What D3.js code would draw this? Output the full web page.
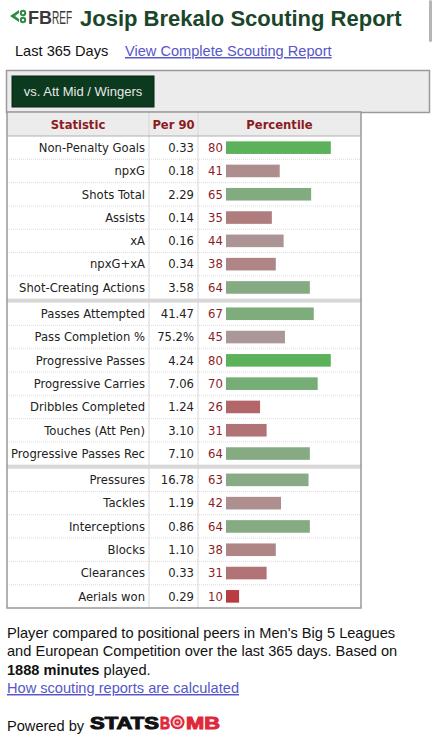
<!DOCTYPE html>
<html>
<head>
<meta charset="utf-8">
<script src="https://cdn.jsdelivr.net/npm/d3@7"></script>
<style>
  body { margin: 0; background: #fff; }
  svg { display: block; }
</style>
</head>
<body>
<svg id="chart"></svg>
<script>
// scouting report data
var stats = [
    "Non-Penalty Goals", "npxG", "Shots Total", "Assists", "xA", "npxG+xA", "Shot-Creating Actions",
    "Passes Attempted", "Pass Completion %", "Progressive Passes", "Progressive Carries",
    "Dribbles Completed", "Touches (Att Pen)", "Progressive Passes Rec",
    "Pressures", "Tackles", "Interceptions", "Blocks", "Clearances", "Aerials won"
];
var per90 = [
    "0.33", "0.18", "2.29", "0.14", "0.16", "0.34", "3.58",
    "41.47", "75.2%", "4.24", "7.06", "1.24", "3.10", "7.10",
    "16.78", "1.19", "0.86", "1.10", "0.33", "0.29"
];
var percentiles = [
    80, 41, 65, 35, 44, 38, 64,
    67, 45, 80, 70, 26, 31, 64,
    63, 42, 64, 38, 31, 10
];
var groups = [
    0, 0, 0, 0, 0, 0, 0,
    1, 1, 1, 1, 1, 1, 1,
    2, 2, 2, 2, 2, 2
];
var headers = ["Statistic", "Per 90", "Percentile"];

var W = 436, H = 750;
var svg = d3.select("#chart").attr("width", W).attr("height", H);

var titleGreen = "#1a462a",
    darkRed = "#8c1b1f",
    linkBlue = "#5656c8",
    sans = "'Liberation Sans', Arial, sans-serif",
    verd = "'DejaVu Sans', Verdana, sans-serif";

// scrollbar sliver on the right edge
svg.append("rect").attr("x", 429).attr("y", 0).attr("width", 3).attr("height", 42)
    .attr("rx", 1.5).attr("fill", "#b5b5b5");

/* ---- header: logo + title ---- */
var logo = svg.append("g").attr("transform", "translate(10,9)");
logo.append("path").attr("d", "M0,7 L9,1 L9,4 L5,7 L9,10 L9,13 Z").attr("fill", "#2f8a4a");
logo.append("circle").attr("cx", 13).attr("cy", 4).attr("r", 3.2).attr("fill", "#2f8a4a");
logo.append("circle").attr("cx", 13).attr("cy", 11).attr("r", 3.2).attr("fill", "#2f8a4a");
logo.append("circle").attr("cx", 13).attr("cy", 4).attr("r", 1.2).attr("fill", "#fff");
logo.append("circle").attr("cx", 13).attr("cy", 11).attr("r", 1.2).attr("fill", "#fff");
svg.append("text").attr("x", 28).attr("y", 24)
    .attr("font-family", sans).attr("font-weight", "bold").attr("font-size", 18)
    .attr("fill", "#3a3a3a").text("FB");
// thin condensed "REF": squeeze horizontally
svg.append("text").attr("transform", "translate(52,24) scale(0.56,1)")
    .attr("font-family", sans).attr("font-size", 18)
    .attr("fill", "#3a3a3a").text("REF");

svg.append("text").attr("x", 80).attr("y", 26)
    .attr("font-family", sans).attr("font-weight", "bold").attr("font-size", 22)
    .attr("fill", titleGreen).text("Josip Brekalo Scouting Report");

svg.append("text").attr("x", 15).attr("y", 56)
    .attr("font-family", sans).attr("font-size", 14.6).attr("fill", "#111")
    .text("Last 365 Days");
svg.append("text").attr("x", 125).attr("y", 56)
    .attr("font-family", sans).attr("font-size", 14.6).attr("fill", linkBlue)
    .attr("text-decoration", "underline").text("View Complete Scouting Report");

/* ---- tab box ---- */
svg.append("rect").attr("x", 6.5).attr("y", 70.5).attr("width", 423).attr("height", 42)
    .attr("fill", "#ececec").attr("stroke", "#9a9a9a").attr("stroke-width", 1.5);
svg.append("rect").attr("x", 12).attr("y", 76).attr("width", 142).attr("height", 31)
    .attr("fill", "#0b3a1e").attr("stroke", "#062612");
svg.append("text").attr("x", 83).attr("y", 96).attr("text-anchor", "middle")
    .attr("font-family", sans).attr("font-size", 13).attr("fill", "#e8e8e8")
    .text("vs. Att Mid / Wingers");

/* ---- table ---- */
var tableLeft = 7, tableRight = 361, tableTop = 112, headH = 24,
    rowH = 23.3, sepH = 3,
    col1 = 149, col2 = 198;

function rowTop(i) { return tableTop + headH + i * rowH + groups[i] * sepH; }
var tableBottom = rowTop(stats.length - 1) + rowH;

var x = d3.scaleLinear().domain([0, 100]).range([226, 357]);
var color = d3.scaleLinear().domain([0, 50, 100])
    .range(["rgb(189,34,40)", "rgb(170,164,164)", "rgb(40,187,43)"]);

var table = svg.append("g");
table.append("rect").attr("x", tableLeft).attr("y", tableTop)
    .attr("width", tableRight - tableLeft).attr("height", tableBottom - tableTop)
    .attr("fill", "#fff");
table.append("rect").attr("x", tableLeft).attr("y", tableTop)
    .attr("width", tableRight - tableLeft).attr("height", headH)
    .attr("fill", "#ececec");

// group separators
[7, 14].forEach(function(i) {
    table.append("rect").attr("x", tableLeft).attr("y", rowTop(i) - sepH - 0.5)
        .attr("width", tableRight - tableLeft).attr("height", sepH + 1).attr("fill", "#d8d8d8");
});

// dotted row lines
table.selectAll(".rowLine").data(stats.slice(1)).enter()
    .append("line").attr("class", "rowLine")
    .attr("x1", tableLeft).attr("x2", tableRight)
    .attr("y1", function(d, i) { return rowTop(i + 1); })
    .attr("y2", function(d, i) { return rowTop(i + 1); })
    .attr("stroke", function(d, i) { return (i + 1 === 7 || i + 1 === 14) ? "none" : "#dcdcdc"; })
    .attr("stroke-dasharray", "1,1");

// column lines
[col1, col2].forEach(function(cx) {
    table.append("line").attr("x1", cx).attr("x2", cx)
        .attr("y1", tableTop).attr("y2", tableBottom)
        .attr("stroke", "#d6d6d6");
});
table.append("line").attr("x1", tableLeft).attr("x2", tableRight)
    .attr("y1", tableTop + headH).attr("y2", tableTop + headH).attr("stroke", "#b0b0b0");
table.append("rect").attr("x", tableLeft).attr("y", tableTop)
    .attr("width", tableRight - tableLeft).attr("height", tableBottom - tableTop)
    .attr("fill", "none").attr("stroke", "#999").attr("stroke-width", 1.5);

// headers
var headX = [(tableLeft + col1) / 2, (col1 + col2) / 2, (col2 + tableRight) / 2];
table.selectAll(".head").data(headers).enter()
    .append("text").attr("class", "head")
    .attr("x", function(d, i) { return headX[i]; })
    .attr("y", tableTop + headH / 2 + 4.5)
    .attr("text-anchor", "middle")
    .attr("font-family", verd).attr("font-weight", "bold").attr("font-size", 11.6)
    .attr("fill", darkRed)
    .text(function(d) { return d; });

var rows = table.selectAll(".row").data(stats).enter()
    .append("g").attr("class", "row")
    .attr("transform", function(d, i) { return "translate(0," + (rowTop(i) + rowH / 2) + ")"; });

rows.append("text")
    .attr("x", col1 - 4).attr("y", 4.3).attr("text-anchor", "end")
    .attr("font-family", verd).attr("font-size", 11.6).attr("fill", "#222")
    .text(function(d) { return d; });
rows.append("text")
    .attr("x", col2 - 4).attr("y", 4.3).attr("text-anchor", "end")
    .attr("font-family", verd).attr("font-size", 11.6).attr("fill", "#222")
    .text(function(d, i) { return per90[i]; });
rows.append("text")
    .attr("x", col2 + 10).attr("y", 4.3)
    .attr("font-family", verd).attr("font-size", 11.6).attr("fill", darkRed)
    .text(function(d, i) { return percentiles[i]; });
rows.append("rect")
    .attr("x", x(0)).attr("y", -6.3)
    .attr("width", function(d, i) { return x(percentiles[i]) - x(0); })
    .attr("height", 12.6)
    .attr("fill", function(d, i) { return color(percentiles[i]); });

/* ---- footer text ---- */
var foot = [
    [{t: "Player compared to positional peers in Men's Big 5 Leagues"}],
    [{t: "and European Competition over the last 365 days. Based on"}],
    [{t: "1888 minutes", b: true}, {t: " played."}]
];
foot.forEach(function(line, li) {
    var t = svg.append("text").attr("x", 7).attr("y", 638 + li * 18.3)
        .attr("font-family", sans).attr("font-size", 14.6).attr("fill", "#111");
    line.forEach(function(p) {
        t.append("tspan").attr("font-weight", p.b ? "bold" : null).text(p.t);
    });
});
svg.append("text").attr("x", 7).attr("y", 693)
    .attr("font-family", sans).attr("font-size", 14.6).attr("fill", linkBlue)
    .attr("text-decoration", "underline").text("How scouting reports are calculated");

svg.append("text").attr("x", 7).attr("y", 731)
    .attr("font-family", sans).attr("font-size", 14.6).attr("fill", "#111")
    .text("Powered by");
var sbRed = "#e0283a";
svg.append("text").attr("x", 90).attr("y", 728.5)
    .attr("font-family", sans).attr("font-weight", "bold").attr("font-size", 17)
    .attr("fill", "#111").attr("stroke", "#111").attr("stroke-width", 1)
    .attr("textLength", 69).attr("lengthAdjust", "spacingAndGlyphs").text("STATS");
svg.append("text").attr("x", 160).attr("y", 728.5)
    .attr("font-family", sans).attr("font-weight", "bold").attr("font-size", 17)
    .attr("fill", sbRed).attr("stroke", sbRed).attr("stroke-width", 1)
    .attr("textLength", 10).attr("lengthAdjust", "spacingAndGlyphs").text("B");
[7, 5, 3, 1.2].forEach(function(r, i) {
    svg.append("circle").attr("cx", 177.5).attr("cy", 722.3).attr("r", r)
        .attr("fill", i % 2 === 0 ? sbRed : "#f7c9cd");
});
svg.append("text").attr("x", 186).attr("y", 728.5)
    .attr("font-family", sans).attr("font-weight", "bold").attr("font-size", 17)
    .attr("fill", sbRed).attr("stroke", sbRed).attr("stroke-width", 1)
    .attr("textLength", 34).attr("lengthAdjust", "spacingAndGlyphs").text("MB");
</script>
</body>
</html>
